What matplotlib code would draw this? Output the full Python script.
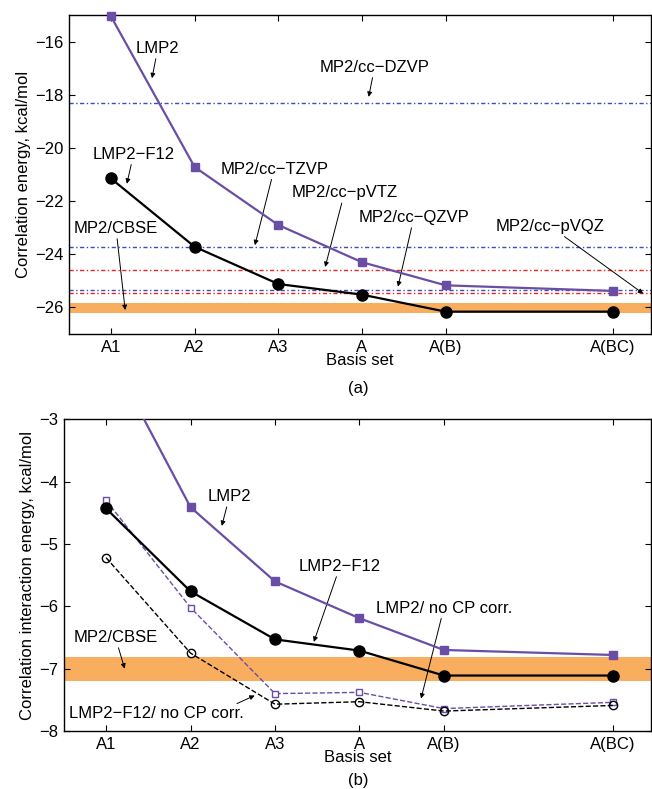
import matplotlib.pyplot as plt
import numpy as np

plt.rcParams['font.family'] = ['Liberation Sans', 'DejaVu Sans']
plt.rcParams['font.size'] = 12
plt.rcParams['axes.unicode_minus'] = True

# 基组和横坐标位置
basis = ['A1', 'A2', 'A3', 'A', 'A(B)', 'A(BC)']
xpos = [1, 2, 3, 4, 5, 7]

# (a) 相关能
lmp2_a = [-15.05, -20.72, -22.9, -24.3, -25.17, -25.38]
f12_a = [-21.15, -23.72, -25.12, -25.52, -26.16, -26.16]
dzvp = -18.32
tzvp = -23.74
pvtz = -24.6
qzvp = -25.34
pvqz = -25.47
cbse_a = (-25.85, -26.2)

# (b) 相关相互作用能
lmp2_b = [-1.85, -4.41, -5.6, -6.19, -6.7, -6.78]
f12_b = [-4.43, -5.76, -6.53, -6.71, -7.11, -7.11]
lmp2_nocp = [-4.3, -6.02, -7.4, -7.38, -7.64, -7.54]
f12_nocp = [-5.22, -6.75, -7.57, -7.53, -7.68, -7.59]
cbse_b = (-6.82, -7.19)

purple = '#6a4ea6'
blue = '#3a4fb5'
red = '#ee2222'
orange = '#f9ad5e'
dashdot = (0, (3, 1.8, 1, 1.8))

fig = plt.figure(figsize=(6.52, 7.89), dpi=100)
ax1 = fig.add_axes([0.106, 0.5767, 0.892, 0.4043])
ax2 = fig.add_axes([0.098, 0.0735, 0.900, 0.395])


def style(ax):
    ax.tick_params(direction='in', top=True, right=True, length=4, width=0.8,
                   labelsize=12, pad=4)
    for s in ax.spines.values():
        s.set_linewidth(1.0)
    ax.set_xticks(xpos)
    ax.set_xticklabels(basis)
    ax.set_xlim(0.5, 7.45)


def note(ax, text, xy, xytext, ha='center'):
    ax.annotate(text, xy=xy, xytext=xytext, ha=ha, va='center', fontsize=12,
                arrowprops=dict(arrowstyle='-|>', color='black', lw=0.7,
                                mutation_scale=7, shrinkA=0, shrinkB=0))


# ---- (a) ----
ax1.axhspan(cbse_a[1], cbse_a[0], color=orange, lw=0, zorder=1)
for yv, c in [(dzvp, blue), (tzvp, blue), (pvtz, red), (qzvp, blue), (pvqz, red)]:
    ax1.axhline(yv, color=c, lw=1.0, ls=dashdot, zorder=2)
ax1.plot(xpos, lmp2_a, color=purple, lw=1.6, marker='s', ms=6, zorder=4, clip_on=False)
ax1.plot(xpos, f12_a, color='black', lw=1.6, marker='o', ms=8, zorder=5)
style(ax1)
ax1.set_ylim(-27, -15)
ax1.set_yticks([-26, -24, -22, -20, -18, -16])
ax1.set_ylabel('Correlation energy, kcal/mol', fontsize=12, labelpad=3)
ax1.set_xlabel('Basis set', fontsize=12, labelpad=-1)
fig.text(0.549, 1 - 388 / 789, '(a)', ha='center', va='center', fontsize=12)

note(ax1, 'LMP2', (1.49, -17.38), (1.56, -16.26))
note(ax1, 'MP2/cc\u2212DZVP', (4.08, -18.08), (4.15, -16.97))
note(ax1, 'LMP2\u2212F12', (1.19, -21.35), (1.27, -20.24))
note(ax1, 'MP2/cc\u2212TZVP', (2.72, -23.66), (2.95, -20.8))
note(ax1, 'MP2/cc\u2212pVTZ', (3.56, -24.48), (3.79, -21.69))
note(ax1, 'MP2/cc\u2212QZVP', (4.43, -25.22), (4.62, -22.62))
note(ax1, 'MP2/cc\u2212pVQZ', (7.36, -25.48), (6.25, -22.95))
note(ax1, 'MP2/CBSE', (1.17, -26.1), (1.06, -23.03))

# ---- (b) ----
ax2.axhspan(cbse_b[1], cbse_b[0], color=orange, lw=0, zorder=1)
ax2.plot(xpos, lmp2_nocp, color=purple, lw=1.0, ls='--', marker='s', ms=5,
         mfc='white', mec=purple, mew=1.0, zorder=3)
ax2.plot(xpos, f12_nocp, color='black', lw=1.0, ls='--', marker='o', ms=6,
         mfc='none', mec='black', mew=1.0, zorder=3)
ax2.plot(xpos, lmp2_b, color=purple, lw=1.6, marker='s', ms=6, zorder=4)
ax2.plot(xpos, f12_b, color='black', lw=1.6, marker='o', ms=8, zorder=5)
style(ax2)
ax2.set_ylim(-8, -3)
ax2.set_yticks([-8, -7, -6, -5, -4, -3])
ax2.set_ylabel('Correlation interaction energy, kcal/mol', fontsize=12, labelpad=3)
ax2.set_xlabel('Basis set', fontsize=12, labelpad=-1)
fig.text(0.549, 1 - 780 / 789, '(b)', ha='center', va='center', fontsize=12)

note(ax2, 'LMP2', (2.37, -4.71), (2.46, -4.24))
note(ax2, 'LMP2\u2212F12', (3.46, -6.57), (3.77, -5.36))
note(ax2, 'LMP2/ no CP corr.', (4.73, -7.48), (5.0, -6.03))
note(ax2, 'MP2/CBSE', (1.22, -7.0), (1.11, -6.5))
ax2.annotate('', xy=(2.76, -7.43), xytext=(2.55, -7.56),
             arrowprops=dict(arrowstyle='-|>', color='black', lw=0.7,
                             mutation_scale=7, shrinkA=0, shrinkB=0))
ax2.text(1.6, -7.72, 'LMP2\u2212F12/ no CP corr.', ha='center', va='center', fontsize=12)

fig.savefig('out.png', dpi=100)
